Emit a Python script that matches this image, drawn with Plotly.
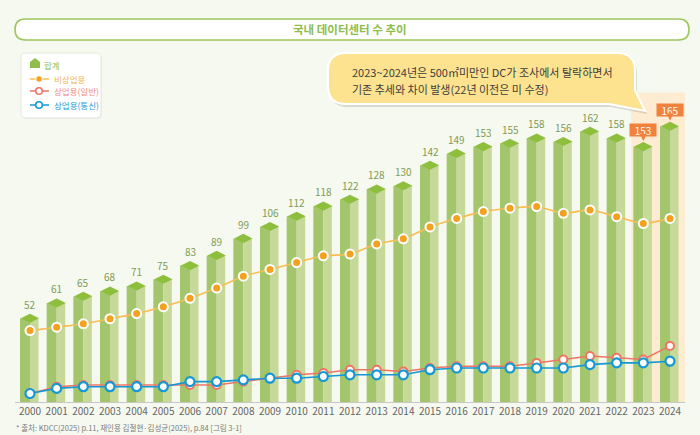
import plotly.graph_objects as go

# =============================================================================
# DATA (국내 데이터센터 수 추이)
# =============================================================================
YEARS = [2000, 2001, 2002, 2003, 2004, 2005, 2006, 2007, 2008, 2009, 2010, 2011, 2012,
         2013, 2014, 2015, 2016, 2017, 2018, 2019, 2020, 2021, 2022, 2023, 2024]
TOTAL = [52, 61, 65, 68, 71, 75, 83, 89, 99, 106, 112, 118, 122,
         128, 130, 142, 149, 153, 155, 158, 156, 162, 158, 153, 165]
NON_COMMERCIAL = [42, 44, 46, 49, 52, 56, 61, 67, 74, 78, 82, 86, 87,
                  93, 96, 103, 108, 112, 114, 115, 111, 113, 109, 105, 108]
COMMERCIAL_GENERAL = [5, 9, 10, 10, 10, 10, 10, 10, 12, 14, 16, 17, 19,
                      19, 18, 20, 21, 21, 21, 23, 25, 27, 26, 25, 33]
COMMERCIAL_TELECOM = [5, 8, 9, 9, 9, 9, 12, 12, 13, 14, 14, 15, 16,
                      16, 16, 19, 20, 20, 20, 20, 20, 22, 23, 23, 24]
HIGHLIGHT_YEARS = [2023, 2024]

TITLE = "국내 데이터센터 수 추이"
NOTE_LINES = ["2023~2024년은 500㎡미만인 DC가 조사에서 탈락하면서",
              "기존 추세와 차이 발생(22년 이전은 미 수정)"]
SOURCE = "* 출처: KDCC(2025) p.11, 재인용 김철현·김성균(2025), p.84 [그림 3-1]"

# =============================================================================
# STYLE
# =============================================================================
W, H = 700, 435
FONT = "Noto Sans CJK KR"
BG = "#f6f9f0"
GREEN_TOP = "#8dbf3d"
GREEN_FRONT = "#a3c56c"
GREEN_SIDE = "#c6d998"
LABEL_GREEN = "#7f9b54"
ORANGE_BOX = "#f1813d"
ORANGE_LINE = "#f8bd55"
ORANGE_DOT = "#f6a020"
RED = "#ef7565"
BLUE = "#1698d5"
TOP_H = 5.5          # height of the bar's top face, in data units


def px(x, y):
    """pixel position -> paper coordinates (margins are zero)"""
    return x / W, 1 - y / H


def path_from(cmds):
    out = []
    for c in cmds:
        if isinstance(c, str):
            out.append(c)
        else:
            X, Y = px(*c)
            out.append(f"{X:.5f},{Y:.5f}")
    return " ".join(out)


def rounded_rect(x0, y0, x1, y1, r):
    return path_from(["M", (x0 + r, y0), "L", (x1 - r, y0), "Q", (x1, y0), (x1, y0 + r),
                      "L", (x1, y1 - r), "Q", (x1, y1), (x1 - r, y1),
                      "L", (x0 + r, y1), "Q", (x0, y1), (x0, y1 - r),
                      "L", (x0, y0 + r), "Q", (x0, y0), (x0 + r, y0), "Z"])


def bubble(x0, y0, x1, y1, r, tip, dx=0, dy=0):
    x0, x1, y0, y1 = x0 + dx, x1 + dx, y0 + dy, y1 + dy
    tx, ty = tip[0] + dx, tip[1] + dy
    return path_from(["M", (x0 + r, y0), "L", (x1 - r, y0), "Q", (x1, y0), (x1, y0 + r),
                      "L", (x1, y1 - 14), "L", (tx, ty), "L", (x1 - 26, y1),
                      "L", (x0 + r, y1), "Q", (x0, y1), (x0, y1 - r),
                      "L", (x0, y0 + r), "Q", (x0, y0), (x0 + r, y0), "Z"])


fig = go.Figure()

# --- bars: front face, side face, top face -----------------------------------
front_h = [v - TOP_H / 2 for v in TOTAL]
fig.add_trace(go.Bar(x=YEARS, y=front_h, width=0.375, offset=-0.375,
                     marker=dict(color=GREEN_FRONT, line=dict(width=0)), hoverinfo="skip"))
fig.add_trace(go.Bar(x=YEARS, y=front_h, width=0.32, offset=0,
                     marker=dict(color=GREEN_SIDE, line=dict(width=0)), hoverinfo="skip"))
fig.add_trace(go.Scatter(x=YEARS, y=front_h, mode="markers", cliponaxis=False,
                         marker=dict(symbol="diamond-wide", size=13, color=GREEN_TOP,
                                     line=dict(width=0)),
                         customdata=TOTAL, hovertemplate="%{x}: %{customdata}<extra>합계</extra>"))

# --- lines -------------------------------------------------------------------
fig.add_trace(go.Scatter(x=YEARS, y=NON_COMMERCIAL, mode="lines+markers", name="비상업용",
                         line=dict(color=ORANGE_LINE, width=1.6, shape="spline", smoothing=0.6),
                         marker=dict(size=9, color=ORANGE_DOT, line=dict(color="white", width=2))))
fig.add_trace(go.Scatter(x=YEARS, y=COMMERCIAL_GENERAL, mode="lines+markers", name="상업용(일반)",
                         line=dict(color=RED, width=1.5),
                         marker=dict(size=8, color="white", line=dict(color=RED, width=2))))
fig.add_trace(go.Scatter(x=YEARS, y=COMMERCIAL_TELECOM, mode="lines+markers", name="상업용(통신)",
                         line=dict(color=BLUE, width=1.6),
                         marker=dict(size=9, color="white", line=dict(color=BLUE, width=2.2))))

# --- value labels --------------------------------------------------------------
for yr, v in zip(YEARS, TOTAL):
    if yr in HIGHLIGHT_YEARS:
        fig.add_annotation(x=yr, y=v, xref="x", yref="y", text=str(v), showarrow=True,
                           ax=0, ay=-12, arrowhead=2, arrowsize=0.7, arrowwidth=2,
                           arrowcolor=ORANGE_BOX, standoff=1, bgcolor=ORANGE_BOX, borderpad=0,
                           width=26, height=12,
                           font=dict(size=10, color="white", family=FONT))
    else:
        fig.add_annotation(x=yr, y=v, xref="x", yref="y", text=str(v), showarrow=False,
                           yanchor="bottom", yshift=0,
                           font=dict(size=10, color=LABEL_GREEN, family=FONT))

# --- decorations ---------------------------------------------------------------
shapes = []
# highlight band behind 2023-2024
shapes.append(dict(type="rect", xref="x", yref="y domain", x0=2022.55, x1=2024.5625,
                   y0=0, y1=0.77, fillcolor="#fdebd2", line=dict(width=0), layer="below"))
# title pill
shapes.append(dict(type="path", xref="paper", yref="paper", path=rounded_rect(15, 19, 689, 40, 10.5),
                   fillcolor="white", line=dict(color="#9dc65c", width=1.6)))
# legend box
shapes.append(dict(type="path", xref="paper", yref="paper", path=rounded_rect(22, 54, 102, 119, 5),
                   fillcolor="#e9ece4", line=dict(width=0)))
shapes.append(dict(type="path", xref="paper", yref="paper", path=rounded_rect(21, 53, 101, 118, 5),
                   fillcolor="white", line=dict(color="#e6e8e1", width=1)))
# speech bubble (shadow + body)
shapes.append(dict(type="path", xref="paper", yref="paper",
                   path=bubble(328, 53, 635, 104, 18, (645, 111), dx=2, dy=3),
                   fillcolor="rgba(0,0,0,0.12)", line=dict(width=0)))
shapes.append(dict(type="path", xref="paper", yref="paper",
                   path=bubble(328, 53, 635, 104, 18, (645, 111)),
                   fillcolor="#fde38f", line=dict(color="white", width=2)))

# legend glyphs
house = path_from(["M", (30, 62), "L", (35, 58), "L", (40, 62), "L", (40, 68), "L", (30, 68), "Z"])
shapes.append(dict(type="path", xref="paper", yref="paper", path=house,
                   fillcolor="#8fbf4a", line=dict(width=0)))
legend_rows = [(79, ORANGE_LINE, ORANGE_DOT, ORANGE_DOT),
               (91, RED, "white", RED),
               (105, BLUE, "white", BLUE)]
for y, lc, fc, bc in legend_rows:
    for xa, xb in [(30, 35.5), (42.5, 49)] if lc == ORANGE_LINE else [(30, 49)]:
        (X0, Y0), (X1, _) = px(xa, y), px(xb, y)
        shapes.append(dict(type="line", xref="paper", yref="paper", x0=X0, x1=X1, y0=Y0, y1=Y0,
                           line=dict(color=lc, width=1.5)))
    ax, ay = px(39, y)
    shapes.append(dict(type="circle", xref="paper", yref="paper", xsizemode="pixel",
                       ysizemode="pixel", xanchor=ax, yanchor=ay, x0=-3.3, x1=3.3, y0=-3.3, y1=3.3,
                       fillcolor=fc, line=dict(color=bc if fc == "white" else "white",
                                               width=1.6 if fc == "white" else 1)))

legend_texts = [("합계", 65, "#8fbf4a"), ("비상업용", 79, "#f7b44e"),
                ("상업용(일반)", 91, "#f08b80"), ("상업용(통신)", 105, "#1e9bd7")]
for txt, y, col in legend_texts:
    X, Y = px(52 if txt != "합계" else 42, y)
    fig.add_annotation(x=X, y=Y, xref="paper", yref="paper", text=txt, showarrow=False,
                       xanchor="left", yanchor="middle", font=dict(size=8.5, color=col, family=FONT))

# title, note, source
X, Y = px(350, 29.5)
fig.add_annotation(x=X, y=Y, xref="paper", yref="paper", text=f"<b>{TITLE}</b>", showarrow=False,
                   xanchor="center", yanchor="middle", font=dict(size=11.5, color="#8fbd4c", family=FONT))
for i, line in enumerate(NOTE_LINES):
    X, Y = px(350, 72 + 17 * i)
    fig.add_annotation(x=X, y=Y, xref="paper", yref="paper", text=line, showarrow=False,
                       xanchor="left", yanchor="middle", font=dict(size=11, color="#3c3c3c", family=FONT))
X, Y = px(14, 427)
fig.add_annotation(x=X, y=Y, xref="paper", yref="paper", text=SOURCE, showarrow=False,
                   xanchor="left", yanchor="middle", font=dict(size=7.5, color="#7a7a7a", family=FONT))

# =============================================================================
# LAYOUT
# =============================================================================
fig.update_layout(
    template="none", width=W, height=H, margin=dict(l=0, r=0, t=0, b=0),
    paper_bgcolor=BG, plot_bgcolor=BG, barmode="overlay", showlegend=False,
    font=dict(family=FONT, size=10, color="#666666"), shapes=shapes,
)
fig.update_xaxes(domain=[15 / W, 685 / W], range=[1999.4375, 2024.5625], tickvals=YEARS,
                 ticktext=[str(y) for y in YEARS], tickfont=dict(size=10, color="#666666"),
                 showgrid=False, zeroline=False, showline=True, linecolor="#c8c8c8",
                 linewidth=1, ticks="", automargin=False)
fig.update_yaxes(domain=[33 / H, 1], range=[0, 402 / 1.7], showgrid=False, zeroline=False,
                 showticklabels=False, showline=False, automargin=False)

# the page's default body margin would shift the chart by 8px
fig.write_html("out.html", config={"displayModeBar": False},
               post_script="document.body.style.margin='0';"
                           "document.body.style.overflow='hidden';")
